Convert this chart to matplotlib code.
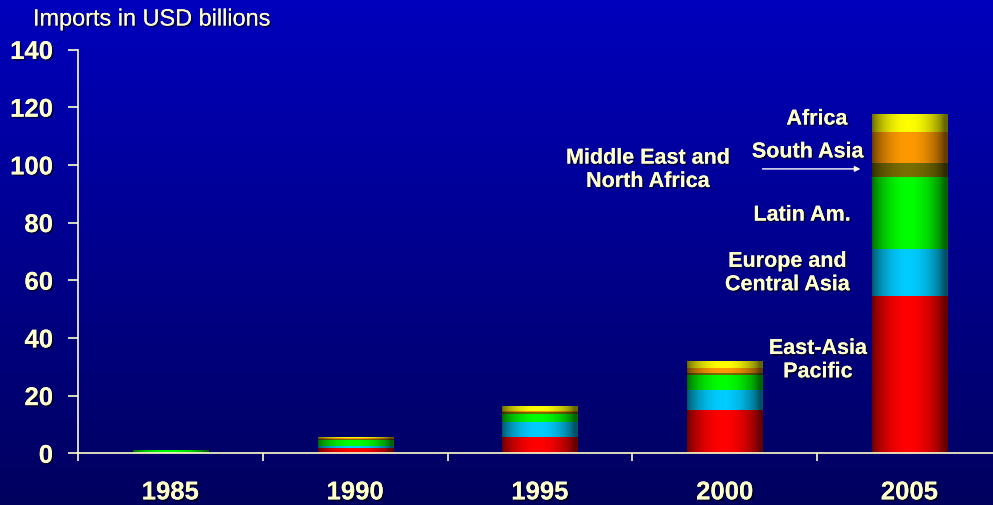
import numpy as np
import matplotlib
matplotlib.use("Agg")
import matplotlib.pyplot as plt
import matplotlib.patheffects as pe
from matplotlib.colors import LinearSegmentedColormap

# ---------------- data ----------------
years = ["1985", "1990", "1995", "2000", "2005"]
regions = ["East-Asia\nPacific", "Europe and\nCentral Asia", "Latin Am.",
           "Middle East and\nNorth Africa", "South Asia", "Africa"]
east_asia_pacific = [0.0, 1.8, 5.6, 14.9, 54.6]
europe_central_asia = [0.0, 0.8, 5.2, 7.0, 16.3]
latin_america = [0.7, 2.0, 2.7, 5.4, 24.8]
middle_east_n_africa = [0.0, 0.2, 0.7, 0.7, 4.9]
south_asia = [0.0, 0.5, 0.4, 1.7, 10.7]
africa = [0.0, 0.1, 1.7, 2.1, 5.9]
series = [east_asia_pacific, europe_central_asia, latin_america,
          middle_east_n_africa, south_asia, africa]
colors = [(1.0, 0.0, 0.0), (0.0, 0.80, 1.0), (0.0, 1.0, 0.0),
          (0.47, 0.43, 0.0), (1.0, 0.60, 0.0), (1.0, 1.0, 0.0)]
yticks = [0, 20, 40, 60, 80, 100, 120, 140]

TXT = "#FFFFCC"
W, H = 993, 506
fig = plt.figure(figsize=(W / 100, H / 100), dpi=100)

# background gradient
bg = fig.add_axes([0, 0, 1, 1], zorder=-10)
grad = np.linspace(0, 1, 256).reshape(-1, 1)
bg_cmap = LinearSegmentedColormap.from_list("bg", [(0, 0, 0.74), (0, 0, 0.37)])
bg.imshow(grad, aspect="auto", cmap=bg_cmap, extent=[0, 1, 0, 1])
bg.set_axis_off()

left_px, zero_px, top_px = 78, 454.3, 50.5
ax = fig.add_axes([left_px / W, (H - zero_px) / H, 1 - left_px / W, (zero_px - top_px) / H])
ax.patch.set_alpha(0)

cat_w = 184.75
x = np.arange(len(years))
bar_w = 0.406
t = np.linspace(0, 1, 120)
prof = 0.40 + 0.60 * np.sin(np.pi * np.clip(t * 1.05, 0, 1)) ** 0.7

bottoms = np.zeros(len(years))
for vals, c in zip(series, colors):
    img = np.ones((1, len(t), 3))
    for k in range(3):
        img[0, :, k] = c[k] * prof
    for i, v in enumerate(vals):
        if v > 0:
            ax.imshow(img, aspect="auto", interpolation="bilinear",
                      extent=[x[i] - bar_w / 2, x[i] + bar_w / 2, bottoms[i], bottoms[i] + v],
                      zorder=2)
    bottoms += np.array(vals)

for s in ["top", "right"]:
    ax.spines[s].set_visible(False)
for s in ["left", "bottom"]:
    ax.spines[s].set_color(TXT)
    ax.spines[s].set_linewidth(1.2)
ax.spines["left"].set_bounds(0, 140)

shadow = [pe.withSimplePatchShadow(offset=(1.2, -1.2), shadow_rgbFace="black", alpha=0.6), pe.Normal()]

ax.set_yticks(yticks)
ax.set_yticklabels([str(v) for v in yticks])
ax.tick_params(axis="y", colors=TXT, length=7.2, width=1.2, pad=10.8, labelsize=18.5)
for lab in ax.get_yticklabels():
    lab.set_fontweight("bold")
    lab.set_fontfamily("Liberation Sans")
    lab.set_path_effects(shadow)

ax.set_xticks(x)
ax.set_xticklabels(years)
ax.set_xticks(np.arange(len(years) + 1) - 0.5, minor=True)
ax.tick_params(axis="x", which="major", length=0, pad=19.5, colors=TXT, labelsize=18.5)
ax.tick_params(axis="x", which="minor", length=6, width=1.2, colors=TXT)
for lab in ax.get_xticklabels():
    lab.set_fontweight("bold")
    lab.set_fontfamily("Liberation Sans")
    lab.set_path_effects(shadow)

# limits after ticks (set_ticks may expand the view)
ax.set_xlim(-0.5, -0.5 + (W - left_px) / cat_w)
ax.set_ylim(0, 140)

fig.text(33 / W, 1 - 20 / H, "Imports in USD billions", color=TXT, fontsize=16.9,
         family="Liberation Sans", ha="left", va="center", path_effects=shadow)

# region labels next to the 2005 bar
label_pos = [(3.505, 32.3), (3.34, 62.5), (3.42, 82.6), (2.585, 98.3), (3.45, 104.5), (3.50, 115.9)]
for name, (lx, ly) in zip(regions, label_pos):
    ax.text(lx, ly, name, color=TXT, fontsize=15.5, fontweight="bold", family="Liberation Sans",
            ha="center", va="center", linespacing=1.15, path_effects=shadow, zorder=5)

ax.annotate("", xy=(3.75, 98.6), xytext=(3.19, 98.6),
            arrowprops=dict(arrowstyle="-|>", color="white", lw=1.0, mutation_scale=8), zorder=5)

fig.savefig("out.png", dpi=100)
